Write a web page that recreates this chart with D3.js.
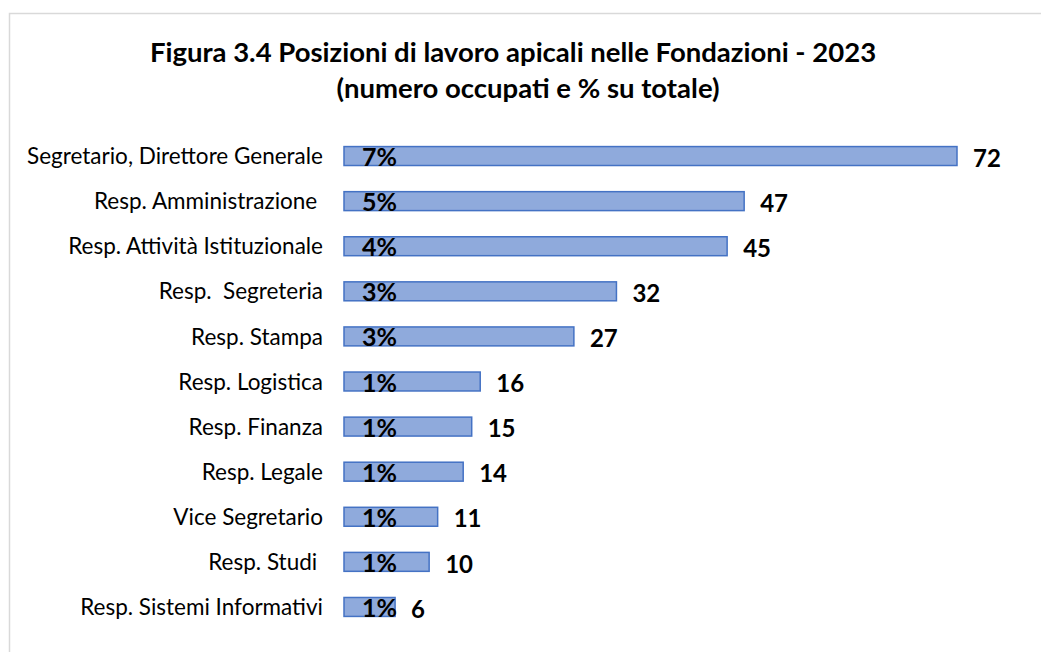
<!DOCTYPE html>
<html>
<head>
<meta charset="utf-8">
<script src="https://cdn.jsdelivr.net/npm/d3@7"></script>
<style>
  body { margin: 0; background: #fff; }
  text { font-family: Lato, "Open Sans", sans-serif; }
</style>
</head>
<body>
<div id="chart"></div>
<script>
// data
var categories = ["Segretario, Direttore Generale", "Resp. Amministrazione ", "Resp. Attività Istituzionale",
    "Resp.  Segreteria", "Resp. Stampa", "Resp. Logistica", "Resp. Finanza", "Resp. Legale",
    "Vice Segretario", "Resp. Studi ", "Resp. Sistemi Informativi"];
var values = [72, 47, 45, 32, 27, 16, 15, 14, 11, 10, 6];
var shares = ["7%", "5%", "4%", "3%", "3%", "1%", "1%", "1%", "1%", "1%", "1%"];
var titleLines = ["Figura 3.4 Posizioni di lavoro apicali nelle Fondazioni - 2023", "(numero occupati e % su totale)"];

var width = 1041, height = 652;

var svg = d3.select("#chart").append("svg")
    .attr("width", width)
    .attr("height", height);

// outer frame
svg.append("rect")
    .attr("x", 9.5).attr("y", 13.5)
    .attr("width", width + 20).attr("height", height + 20)
    .attr("fill", "none")
    .attr("stroke", "#d9d9d9")
    .attr("stroke-width", 1.5);

// second title line sits a bit right of the first one
svg.selectAll("text.title")
    .data(titleLines)
    .enter()
    .append("text")
    .attr("class", "title")
    .attr("x", function(d, i){ return i == 0 ? 513 : 528; })
    .attr("y", function(d, i){ return 62 + i * 36; })
    .attr("text-anchor", "middle")
    .attr("font-size", "27.5px")
    .attr("font-weight", "bold")
    .attr("fill", "#000")
    .text(function(d){ return d; });

var x = d3.scaleLinear().domain([0, 72]).range([344, 957]);
var y = d3.scaleBand().domain(categories).range([133.5, 629.5]).paddingInner(0.58).paddingOuter(0.29);

var rows = svg.selectAll("g.row")
    .data(categories)
    .enter()
    .append("g")
    .attr("class", "row");

rows.append("rect")
    .attr("x", x(0))
    .attr("y", function(d){ return y(d); })
    .attr("width", function(d, i){ return x(values[i]) - x(0); })
    .attr("height", y.bandwidth())
    .attr("fill", "#8faadc")
    .attr("stroke", "#4472c4")
    .attr("stroke-width", 1.5);

// category labels
rows.append("text")
    .attr("x", 323)
    .attr("y", function(d){ return y(d) + y.bandwidth() / 2; })
    .attr("dy", "0.36em")
    .attr("text-anchor", "end")
    .attr("font-size", "22.5px")
    .attr("fill", "#000")
    .style("white-space", "pre")
    .text(function(d){ return d; });

// share labels
rows.append("text")
    .attr("x", 362)
    .attr("y", function(d){ return y(d) + y.bandwidth() / 2 + 1; })
    .attr("dy", "0.36em")
    .attr("font-size", "25px")
    .attr("font-weight", "bold")
    .attr("fill", "#000")
    .text(function(d, i){ return shares[i]; });

// value labels
rows.append("text")
    .attr("x", function(d, i){ return x(values[i]) + 16; })
    .attr("y", function(d){ return y(d) + y.bandwidth() / 2 + 2; })
    .attr("dy", "0.36em")
    .attr("font-size", "24px")
    .attr("font-weight", "bold")
    .attr("fill", "#000")
    .text(function(d, i){ return values[i]; });
</script>
</body>
</html>
